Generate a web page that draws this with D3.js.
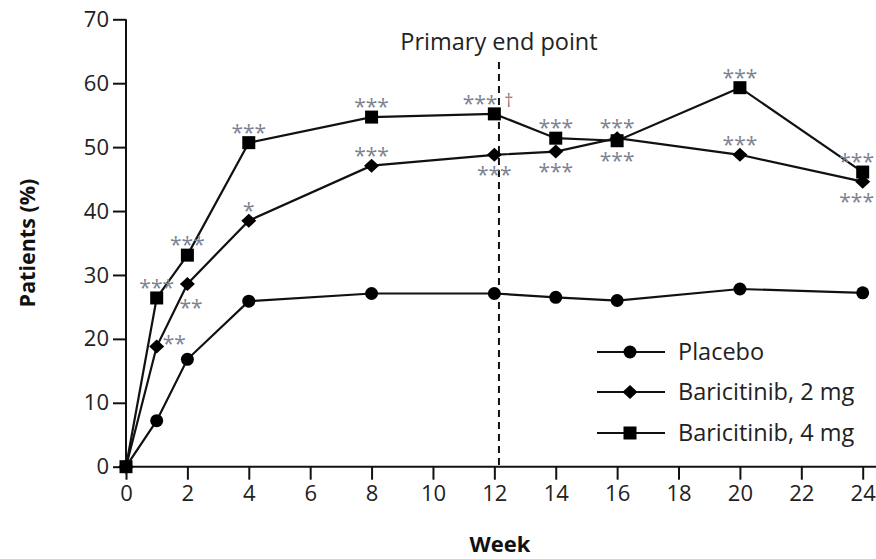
<!DOCTYPE html>
<html>
<head>
<meta charset="utf-8">
<script src="https://cdn.jsdelivr.net/npm/d3@7"></script>
<style>
  html, body { margin: 0; padding: 0; background: #fff; }
  svg { display: block; }
  text { font-family: "Open Sans", "Lato", sans-serif; }
</style>
</head>
<body>
<svg id="chart" width="876" height="559"></svg>
<script>
// ---------- data ----------
const weeks = [0, 1, 2, 4, 8, 12, 14, 16, 20, 24];
const placebo = [0, 7.2, 16.8, 25.9, 27.1, 27.1, 26.5, 26.0, 27.8, 27.2];
const bari2mg = [0, 18.8, 28.6, 38.5, 47.1, 48.8, 49.3, 51.4, 48.8, 44.6];
const bari4mg = [0, 26.4, 33.1, 50.7, 54.7, 55.2, 51.4, 51.0, 59.3, 46.1];
const seriesNames = ["Placebo", "Baricitinib, 2 mg", "Baricitinib, 4 mg"];
const xTicks = [0, 2, 4, 6, 8, 10, 12, 14, 16, 18, 20, 22, 24];
const yTicks = [0, 10, 20, 30, 40, 50, 60, 70];
const endPointWeek = 12.15;
const endPointLabel = "Primary end point";
// significance labels: [series index, week, label, placement]
const sigLabels = [
  [2, 1, "***", "above"],
  [1, 1, "**", "right"],
  [2, 2, "***", "above"],
  [1, 2, "**", "belowright"],
  [2, 4, "***", "above"],
  [1, 4, "*", "above"],
  [2, 8, "***", "above"],
  [1, 8, "***", "above"],
  [2, 12, "***", "aboveleft"],
  [1, 12, "***", "below"],
  [2, 14, "***", "above"],
  [1, 14, "***", "below"],
  [1, 16, "***", "above"],
  [2, 16, "***", "below"],
  [2, 20, "***", "above"],
  [1, 20, "***", "above"],
  [2, 24, "***", "above"],
  [1, 24, "***", "below"]
];
const dagger = "†";

// ---------- layout ----------
const W = 876;
const svg = d3.select("#chart");
const x = d3.scaleLinear().domain([0, 24]).range([126, 862.7]);
const y = d3.scaleLinear().domain([0, 70]).range([466.7, 19.3]);
const seriesData = [placebo, bari2mg, bari4mg];
const shapes = ["circle", "diamond", "square"];

function drawMarker(g, shape, cx, cy) {
  if (shape === "circle") {
    g.append("circle").attr("cx", cx).attr("cy", cy).attr("r", 6.5).attr("fill", "#000");
  } else if (shape === "square") {
    g.append("rect").attr("x", cx - 6.5).attr("y", cy - 6.5).attr("width", 13).attr("height", 13).attr("fill", "#000");
  } else {
    const h = 7.5, v = 7;
    g.append("path").attr("d", `M${cx},${cy - v}L${cx + h},${cy}L${cx},${cy + v}L${cx - h},${cy}Z`).attr("fill", "#000");
  }
}

// axes
const yAxis = d3.axisLeft(y).tickValues(yTicks).tickSize(13).tickPadding(4);
const gy = svg.append("g").attr("transform", `translate(${x(0)},0)`).call(yAxis);
gy.select(".domain").attr("stroke", "#111").attr("stroke-width", 2).attr("d", `M0,${y(70)}V${y(0)}`);
gy.selectAll(".tick line").attr("stroke", "#111").attr("stroke-width", 2);
gy.selectAll(".tick text").attr("font-size", 22).attr("fill", "#222").attr("font-family", "Open Sans");

const xAxis = d3.axisBottom(x).tickValues(xTicks).tickSize(13).tickPadding(6);
const gx = svg.append("g").attr("transform", `translate(0,${y(0)})`).call(xAxis);
gx.select(".domain").attr("stroke", "#111").attr("stroke-width", 2).attr("d", `M${x(0)},0H${W}`);
gx.selectAll(".tick line").attr("stroke", "#111").attr("stroke-width", 2);
gx.selectAll(".tick text").attr("font-size", 22).attr("fill", "#222").attr("font-family", "Open Sans");

// axis titles
svg.append("text").attr("x", 500).attr("y", 552).attr("text-anchor", "middle")
  .attr("font-size", 22).attr("font-weight", "bold").attr("fill", "#111").text("Week");
svg.append("text").attr("transform", `translate(35,243) rotate(-90)`).attr("text-anchor", "middle")
  .attr("font-size", 21.5).attr("font-weight", "bold").attr("fill", "#111").text("Patients (%)");

// primary end point line
svg.append("line").attr("x1", x(endPointWeek)).attr("x2", x(endPointWeek))
  .attr("y1", 62).attr("y2", y(0)).attr("stroke", "#111").attr("stroke-width", 2).attr("stroke-dasharray", "7,5");
svg.append("text").attr("x", 499).attr("y", 50).attr("text-anchor", "middle")
  .attr("font-size", 23.5).attr("fill", "#222").text(endPointLabel);

// lines and markers
const line = d3.line().x((d, i) => x(weeks[i])).y(d => y(d));
seriesData.forEach((vals) => {
  svg.append("path").datum(vals).attr("d", line).attr("fill", "none")
    .attr("stroke", "#111").attr("stroke-width", 2.2);
});
seriesData.forEach((vals, si) => {
  const g = svg.append("g");
  vals.forEach((v, i) => drawMarker(g, shapes[si], x(weeks[i]), y(v)));
});

// significance labels
const starColor = "#7d8391";
const starSize = 21;
sigLabels.forEach(([si, wk, lab, pos]) => {
  const i = weeks.indexOf(wk);
  const cx = x(wk), cy = y(seriesData[si][i]);
  let tx = cx, ty = cy - 3, anchor = "middle";
  if (pos === "below") { ty = cy + 27; }
  if (pos === "right") { tx = cx + 6; ty = cy + 4; anchor = "start"; }
  if (pos === "belowright") { tx = cx - 8; ty = cy + 31; anchor = "start"; }
  if (pos === "aboveleft") { tx = cx + 3; ty = cy - 3; anchor = "end"; }
  const t = svg.append("text").attr("x", tx).attr("y", ty).attr("text-anchor", anchor)
    .attr("font-size", starSize).attr("fill", starColor).text(lab);
  const bb = t.node().getBBox();
  if (bb.x + bb.width > W - 2) t.attr("x", tx - (bb.x + bb.width - (W - 2)));
  if (pos === "aboveleft") {
    svg.append("text").attr("x", tx + 7).attr("y", ty - 4).attr("font-size", 18)
      .attr("fill", "#9a7a80").text(dagger);
  }
});

// legend
const legendX1 = 597, legendX2 = 665, legendMarkX = 630, legendTextX = 678;
const legendYs = [352, 392, 433];
seriesNames.forEach((name, si) => {
  const ly = legendYs[si];
  const g = svg.append("g");
  g.append("line").attr("x1", legendX1).attr("x2", legendX2).attr("y1", ly).attr("y2", ly)
    .attr("stroke", "#111").attr("stroke-width", 2);
  drawMarker(g, shapes[si], legendMarkX, ly);
  g.append("text").attr("x", legendTextX).attr("y", ly + 8).attr("font-size", 23.5)
    .attr("fill", "#222").text(name);
});
</script>
</body>
</html>
